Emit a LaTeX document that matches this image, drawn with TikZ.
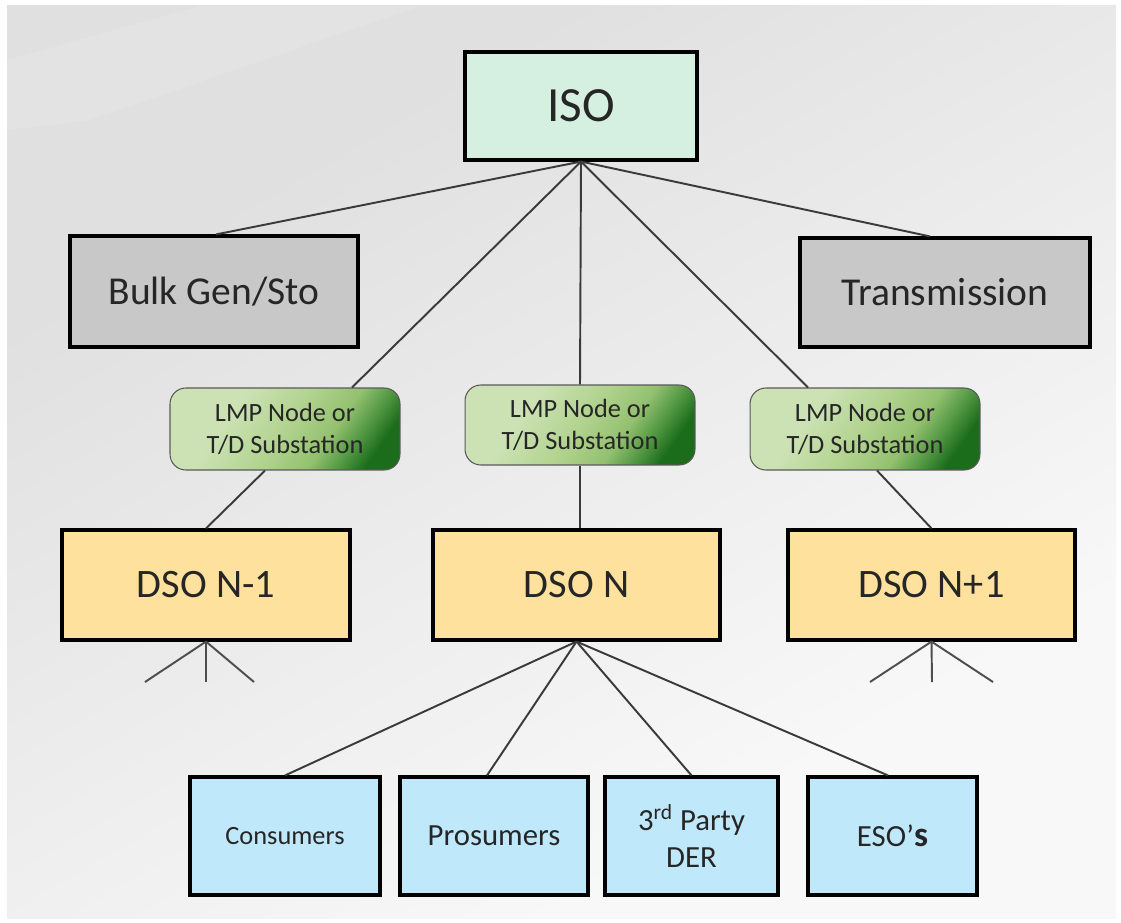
\documentclass[tikz,border=0pt]{standalone}
\usepackage{fontspec}
\setmainfont{Carlito}
\usetikzlibrary{calc}
\definecolor{isofill}{HTML}{D5F0E1}
\definecolor{grayfill}{HTML}{C8C8C8}
\definecolor{dsofill}{HTML}{FEE19D}
\definecolor{bluefill}{HTML}{BFE8FA}
\definecolor{txt}{HTML}{262626}
\definecolor{linec}{HTML}{3A3A3A}
\definecolor{lmpA}{HTML}{CCE2B4}
\definecolor{lmpB}{HTML}{B2D38F}
\definecolor{lmpC}{HTML}{93C16F}
\definecolor{lmpD}{HTML}{4E9540}
\definecolor{lmpE}{HTML}{1B6C1B}
\definecolor{bgA}{HTML}{E0E0E0}
\definecolor{bgB}{HTML}{ECECEC}
\definecolor{bgC}{HTML}{F8F8F8}
\pgfdeclarehorizontalshading{lmpshade}{100bp}{color(0bp)=(lmpA); color(34bp)=(lmpA); color(50bp)=(lmpB); color(62bp)=(lmpC); color(70bp)=(lmpD); color(76bp)=(lmpE); color(100bp)=(lmpE)}
\pgfdeclarehorizontalshading{bgshade}{100bp}{color(0bp)=(bgA); color(30bp)=(bgA); color(50bp)=(bgB); color(70bp)=(bgC); color(100bp)=(bgC)}
\tikzset{
  x=0.02cm, y=-0.02cm,
  box/.style={draw=black, line width=1.8pt, text=txt, align=center, inner sep=0pt},
  isobox/.style={box, fill=isofill, font=\fontsize{28}{30}\selectfont},
  graybox/.style={box, fill=grayfill, font=\fontsize{22.5}{26}\selectfont},
  dsobox/.style={box, fill=dsofill, font=\fontsize{23}{26}\selectfont},
  bluebox/.style={box, fill=bluefill, font=\fontsize{17.5}{21}\selectfont},
  lmpbox/.style={draw=gray!70!black, line width=0.6pt, rounded corners=9pt, shading=lmpshade, shading angle=-35, text=txt, align=center, inner sep=0pt, font=\fontsize{15}{18}\selectfont, minimum width=4.6cm},
  conn/.style={draw=linec, line width=1.1pt},
  stub/.style={draw=linec!90, line width=1.1pt}
}
\begin{document}
\begin{tikzpicture}
\useasboundingbox (0,0) rectangle (1121,922);
\fill[white] (0,0) rectangle (1121,922);
\shade[shading=bgshade, shading angle=-60] (7,6) rectangle (1116,918);
% subtle background panes
\fill[white, opacity=0.12] (7,60) -- (200,6) -- (420,6) -- (90,120) -- (7,130) -- cycle;
% nodes
\node[isobox, minimum width=4.64cm, minimum height=2.16cm] (iso) at (581,106) {ISO};
\node[graybox, minimum width=5.76cm, minimum height=2.22cm] (bulk) at (214,291.5) {Bulk Gen/Sto};
\node[graybox, minimum width=5.8cm, minimum height=2.18cm] (trans) at (945,292.5) {Transmission};
\node[lmpbox, minimum height=1.64cm] (lmpL) at (285,429) {LMP Node or\\T/D Substation};
\node[lmpbox, minimum height=1.6cm] (lmpM) at (580,425) {LMP Node or\\T/D Substation};
\node[lmpbox, minimum height=1.64cm] (lmpR) at (865,429) {LMP Node or\\T/D Substation};
\node[dsobox, minimum width=5.76cm, minimum height=2.2cm] (dsoL) at (206,585) {DSO N-1};
\node[dsobox, minimum width=5.74cm, minimum height=2.2cm] (dsoM) at (576.5,585) {DSO N};
\node[dsobox, minimum width=5.74cm, minimum height=2.2cm] (dsoR) at (931.5,585) {DSO N+1};
\node[bluebox, minimum width=3.8cm, minimum height=2.36cm, font=\fontsize{15}{18}\selectfont] (cons) at (285,836) {Consumers};
\node[bluebox, minimum width=3.76cm, minimum height=2.36cm] (pros) at (494,836) {Prosumers};
\node[bluebox, minimum width=3.46cm, minimum height=2.36cm] (third) at (691.5,836) {3\textsuperscript{rd} Party\\DER};
\node[bluebox, minimum width=3.38cm, minimum height=2.36cm] (eso) at (892.5,836) {ESO’{\bfseries\fontsize{20}{20}\selectfont s}};
% stub end points
\coordinate (sL1) at (145,682);
\coordinate (sL2) at (206,682);
\coordinate (sL3) at (254,682);
\coordinate (sR1) at (870,682);
\coordinate (sR2) at (932,682);
\coordinate (sR3) at (993,682);
% connectors
\draw[conn] (iso.south) -- ([xshift=0.04cm]bulk.north);
\draw[conn] (iso.south) -- ([xshift=-0.3cm]trans.north);
\draw[conn] (iso.south) -- ([xshift=1.34cm]lmpL.north);
\draw[conn] (iso.south) -- (lmpM.north);
\draw[conn] (iso.south) -- ([xshift=-1.14cm]lmpR.north);
\draw[conn] ([xshift=-0.4cm]lmpL.south) -- (dsoL.north);
\draw[conn] (lmpM.south) -- (lmpM.south |- dsoM.north);
\draw[conn] ([xshift=0.24cm]lmpR.south) -- (dsoR.north);
\draw[conn] (dsoM.south) -- (cons.north);
\draw[conn] (dsoM.south) -- ([xshift=-0.14cm]pros.north);
\draw[conn] (dsoM.south) -- (third.north);
\draw[conn] (dsoM.south) -- ([xshift=-0.09cm]eso.north);
\draw[stub] (dsoL.south) -- (sL1);
\draw[stub] (dsoL.south) -- (sL2);
\draw[stub] (dsoL.south) -- (sL3);
\draw[stub] (dsoR.south) -- (sR1);
\draw[stub] (dsoR.south) -- (sR2);
\draw[stub] (dsoR.south) -- (sR3);
\end{tikzpicture}
\end{document}
